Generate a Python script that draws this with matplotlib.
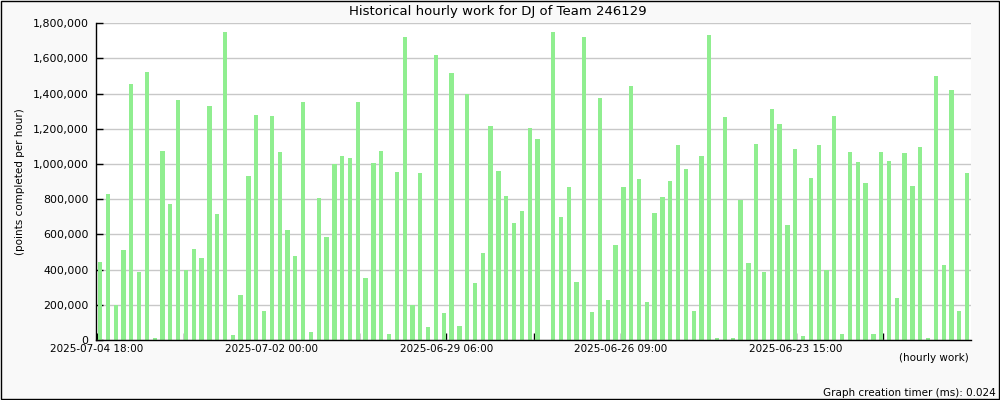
import numpy as np
import matplotlib
matplotlib.use('Agg')
import matplotlib.pyplot as plt
from matplotlib.patches import Rectangle

# hourly points (newest hour first)
points = [
    443000, 830000, 197000, 512000, 1455000, 387000, 1523000, 11000, 1074000, 773000,
    1364000, 398000, 517000, 466000, 1330000, 716000, 1751000, 28000, 256000, 932000,
    1279000, 165000, 1273000, 1069000, 625000, 477000, 1353000, 45000, 807000, 585000,
    1000000, 1046000, 1034000, 1353000, 352000, 1006000, 1074000, 34000, 955000, 1722000,
    197000, 949000, 74000, 1620000, 153000, 1518000, 80000, 1398000, 324000, 495000,
    1216000, 961000, 818000, 665000, 733000, 1205000, 1143000, 0, 1751000, 699000,
    870000, 330000, 1722000, 159000, 1376000, 227000, 540000, 870000, 1444000, 915000,
    216000, 722000, 813000, 904000, 1108000, 972000, 165000, 1046000, 1734000, 11000,
    1268000, 11000, 796000, 438000, 1114000, 387000, 1313000, 1228000, 654000, 1086000,
    23000, 921000, 1108000, 398000, 1273000, 34000, 1069000, 1012000, 892000, 34000,
    1069000, 1017000, 239000, 1063000, 875000, 1097000, 11000, 1501000, 426000, 1421000,
    165000, 949000,
]
tick_labels = ['2025-07-04 18:00', '', '2025-07-02 00:00', '', '2025-06-29 06:00', '',
               '2025-06-26 09:00', '', '2025-06-23 15:00', '']
yticks = list(range(0, 1800001, 200000))

fig = plt.figure(figsize=(10, 4), dpi=100, facecolor='#f9f9f9')
ax = fig.add_axes([0.0955, 0.15, 0.8755, 0.792])
ax.set_facecolor('white')

x = np.arange(len(points))
ax.bar(x, points, width=0.55, color='#90ee90', zorder=2)

ax.set_xlim(-0.58, len(points) - 0.5)
ax.set_ylim(0, 1800000)
ax.set_yticks(yticks)
ax.set_yticklabels([f'{v:,}' for v in yticks])
ax.set_xticks(-0.4 + 11.18 * np.arange(len(tick_labels)))
ax.set_xticklabels(tick_labels)
ax.tick_params(direction='in', length=5, width=1, labelsize=7.5, colors='black', pad=3)
ax.tick_params(axis='y', labelsize=7.9, pad=5)
ax.grid(axis='y', color='#c8c8c8', linewidth=1, zorder=0)
ax.set_axisbelow(True)
for s in ['top', 'right']:
    ax.spines[s].set_visible(False)
for s in ['left', 'bottom']:
    ax.spines[s].set_linewidth(1)

ax.set_ylabel('(points completed per hour)', fontsize=7.5)
ax.yaxis.set_label_coords(-0.08, 0.5)
fig.text(0.498, 0.972, 'Historical hourly work for DJ of Team 246129',
         ha='center', va='center', fontsize=9.5)
fig.text(0.969, 0.105, '(hourly work)', ha='right', va='center', fontsize=7.5)
fig.text(0.996, 0.017, 'Graph creation timer (ms): 0.024', ha='right', va='center', fontsize=7.5)

# thin black frame round the whole picture
fig.patches.append(Rectangle((0.0006, 0.0015), 0.9988, 0.997, transform=fig.transFigure,
                             fill=False, edgecolor='black', linewidth=1))

fig.savefig('out.png', dpi=100, facecolor=fig.get_facecolor())
